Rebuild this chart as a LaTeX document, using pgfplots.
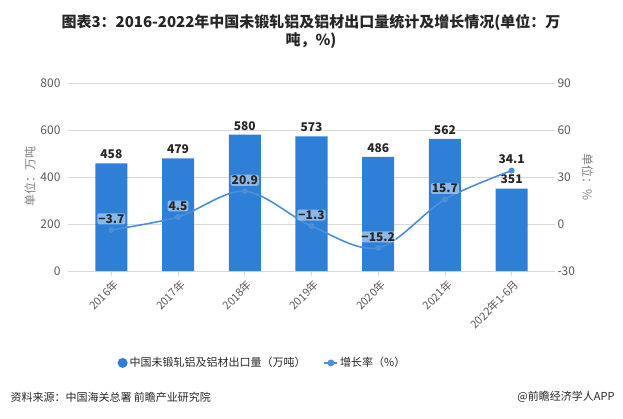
\documentclass[border=0pt]{standalone}
\usepackage{fontspec}
\setmainfont{Noto Sans CJK SC}
\usepackage{pgfplots}
\pgfplotsset{compat=1.18}
\definecolor{barblue}{HTML}{2E7FD6}
\definecolor{lineblue}{HTML}{4A8FD8}
\definecolor{gridgray}{HTML}{D9D9D9}
\definecolor{txtgray}{HTML}{595959}
\definecolor{titlecol}{HTML}{262626}
\begin{document}
\begin{tikzpicture}
\useasboundingbox (0pt,0pt) rectangle (623pt,-419pt);
\node[font=\fontsize{15}{18}\selectfont\bfseries, text=titlecol] at (311pt,-22pt) {图表3：2016-2022年中国未锻轧铝及铝材出口量统计及增长情况(单位：万};
\node[font=\fontsize{15}{18}\selectfont\bfseries, text=titlecol] at (311pt,-41pt) {吨，\%)};
% grid extensions
\foreach \k in {0,...,4} {
  \draw[gridgray, line width=0.8pt] (68pt,-271pt+\k*47pt) -- (78pt,-271pt+\k*47pt);
  \draw[gridgray, line width=0.8pt] (545pt,-271pt+\k*47pt) -- (555pt,-271pt+\k*47pt);
}
\begin{axis}[
  at={(78pt,-271pt)}, anchor=south west,
  scale only axis, width=467pt, height=188pt,
  xmin=-0.5, xmax=6.5, ymin=0, ymax=800,
  ytick={0,200,...,800},
  xtick={0,...,6},
  xticklabels={2016年,2017年,2018年,2019年,2020年,2021年,2022年1-6月},
  x tick label style={rotate=45, anchor=north east, font=\fontsize{11}{13}\selectfont, text=txtgray, inner sep=1pt, yshift=-2pt},
  yticklabel style={font=\fontsize{12}{14}\selectfont, text=txtgray, xshift=-9pt},
  /pgf/number format/assume math mode=true,
  axis x line*=bottom, axis y line*=left,
  y axis line style={draw=none},
  x axis line style={gridgray, line width=0.8pt, -},
  ytick style={draw=none},
  xtick style={gridgray, line width=0.8pt},
  tick align=outside, major tick length=5pt,
  ymajorgrids, grid style={gridgray, line width=0.8pt},
  ylabel={单位：万吨}, ylabel style={font=\fontsize{12}{14}\selectfont, text=gray, at={(-48pt,94pt)}, anchor=center, rotate=0},
  legend style={at={(0.395,-0.489)}, anchor=center, draw=none, fill=none, legend columns=2, font=\fontsize{11}{13}\selectfont, text=titlecol, /tikz/every even column/.append style={column sep=16pt}},
  clip=false,
]
\addplot[ybar, bar width=32pt, fill=barblue, draw=none,
  nodes near coords,
  every node near coord/.append style={font=\fontsize{12}{14}\selectfont\bfseries, text=titlecol, yshift=1pt},
  legend image code/.code={\fill[barblue] (0.3em,0pt) circle (5pt);}]
  coordinates {(0,458) (1,479) (2,580) (3,573) (4,486) (5,562) (6,351)};
\addlegendentry{中国未锻轧铝及铝材出口量（万吨）}
\addlegendimage{lineblue, legend image code/.code={\draw[lineblue, line width=1.5pt] (0pt,0pt) -- (13pt,0pt); \fill[lineblue] (6.5pt,0pt) circle (3.2pt);}}
\addlegendentry{增长率（\%）}
\end{axis}
\begin{axis}[
  at={(78pt,-271pt)}, anchor=south west,
  scale only axis, width=467pt, height=188pt,
  xmin=-0.5, xmax=6.5, ymin=-30, ymax=90,
  ytick={-30,0,30,60,90},
  axis x line=none, axis y line*=right,
  y axis line style={draw=none},
  ytick style={draw=none},
  yticklabel style={font=\fontsize{12}{14}\selectfont, text=txtgray, xshift=9pt},
  /pgf/number format/assume math mode=true,
  ylabel={单位：\%}, ylabel style={font=\fontsize{12}{14}\selectfont, text=gray, rotate=180},
  clip=false,
]
\addplot[lineblue, line width=1.6pt, smooth, tension=0.55, mark=*, mark size=2.2pt, mark options={fill=lineblue, draw=lineblue},
  point meta=explicit symbolic,
  nodes near coords,
  every node near coord/.append style={font=\fontsize{12}{14}\selectfont\bfseries, text=titlecol, anchor=center, yshift=11pt, fill=white, fill opacity=0.45, text opacity=1, rounded corners=2pt, inner sep=1pt}]
  coordinates {(0,-3.7)[−3.7] (1,4.5)[4.5] (2,20.9)[20.9] (3,-1.3)[−1.3] (4,-15.2)[−15.2] (5,15.7)[15.7] (6,34.1)[34.1]};
\end{axis}
\node[font=\fontsize{11}{13}\selectfont, text=titlecol, anchor=west] at (7pt,-397pt) {资料来源：中国海关总署 前瞻产业研究院};
\node[font=\fontsize{11}{13}\selectfont, text=titlecol, anchor=east] at (618pt,-397pt) {@前瞻经济学人APP};
\end{tikzpicture}
\end{document}
